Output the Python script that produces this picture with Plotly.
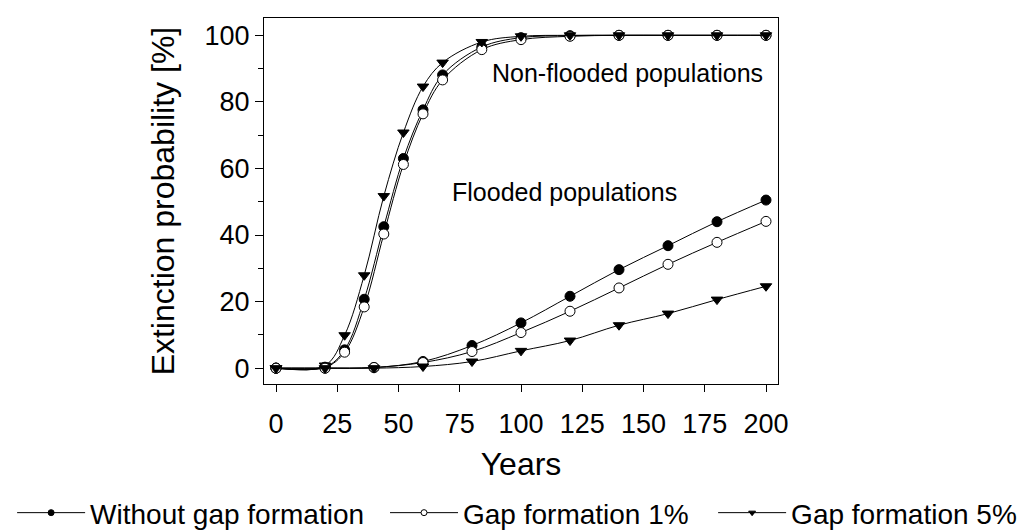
import plotly.graph_objects as go

# Simulation years (non-flooded runs are sampled more densely around the rise)
years_nonflooded = [0, 20, 28, 36, 44, 52, 60, 68, 84, 100, 120, 140, 160, 180, 200]
years_flooded = [0, 20, 40, 60, 80, 100, 120, 140, 160, 180, 200]

# Extinction probability [%] - non-flooded populations
nf_without_gap = [0, 0.3, 5.5, 20.7, 42.5, 63.0, 77.6, 88.1, 96.5, 99.3, 99.9, 100, 100, 100, 100]
nf_gap_1 = [0, 0.2, 4.8, 18.4, 40.3, 61.2, 76.4, 86.6, 95.7, 98.7, 99.7, 100, 100, 100, 100]
nf_gap_5 = [0, 0.8, 9.9, 27.9, 51.7, 70.8, 84.6, 91.8, 98.0, 99.7, 100, 100, 100, 100, 100]

# Extinction probability [%] - flooded populations
fl_without_gap = [0, 0, 0.2, 2.0, 6.8, 13.6, 21.6, 29.6, 36.8, 44.0, 50.5]
fl_gap_1 = [0, 0, 0.2, 1.7, 5.0, 10.7, 17.1, 24.1, 31.2, 37.8, 44.1]
fl_gap_5 = [0, 0, 0, 0.5, 2.0, 5.2, 8.3, 12.9, 16.4, 20.6, 24.6]

series_names = ["Without gap formation", "Gap formation 1%", "Gap formation 5%"]
x_ticks = [0, 25, 50, 75, 100, 125, 150, 175, 200]
y_ticks = [0, 20, 40, 60, 80, 100]

FONT = "Liberation Sans, Arial, sans-serif"
BLACK = "#000000"

styles = [
    dict(symbol="circle", color=BLACK, size=10),
    dict(symbol="circle", color="#ffffff", size=10),
    dict(symbol="triangle-down", color=BLACK, size=10),
]
legend_ids = ["legend", "legend2", "legend3"]
legend_x = [0.0117, 0.372, 0.689]   # left edges of the three legend entries

fig = go.Figure()

groups = [
    (years_nonflooded, [nf_without_gap, nf_gap_1, nf_gap_5]),
    (years_flooded, [fl_without_gap, fl_gap_1, fl_gap_5]),
]
for xs, ys_list in groups:
    for name, ys, st in zip(series_names, ys_list, styles):
        fig.add_trace(go.Scatter(
            x=xs, y=ys, name=name, legendgroup=name, showlegend=False,
            mode="lines+markers",
            line=dict(color=BLACK, width=1, shape="spline", smoothing=1.0),
            marker=dict(symbol=st["symbol"], size=st["size"], color=st["color"],
                        line=dict(color=BLACK, width=1)),
        ))

# Legend entries (one legend per series so they sit on a single row)
for name, st, lid in zip(series_names, styles, legend_ids):
    fig.add_trace(go.Scatter(
        x=[None], y=[None], name=name, legendgroup=name, showlegend=True,
        legend=lid, mode="lines+markers",
        line=dict(color=BLACK, width=1),
        marker=dict(symbol=st["symbol"], size=6, color=st["color"],
                    line=dict(color=BLACK, width=1)),
    ))

fig.add_annotation(x=199.6, y=88.7, xref="x", yref="y", text="Non-flooded populations",
                   showarrow=False, xanchor="right", yanchor="middle",
                   font=dict(family=FONT, size=25, color=BLACK))
fig.add_annotation(x=71, y=52.8, xref="x", yref="y", text="Flooded populations",
                   showarrow=False, xanchor="left", yanchor="middle",
                   font=dict(family=FONT, size=25, color=BLACK))

legend_common = dict(orientation="h", xref="container", yref="container",
                     y=0.034, xanchor="left", yanchor="middle",
                     font=dict(family=FONT, size=28, color=BLACK),
                     itemwidth=68, bgcolor="rgba(0,0,0,0)", borderwidth=0)

fig.update_layout(
    width=1035, height=531,
    margin=dict(l=264, r=257, t=18, b=145),
    paper_bgcolor="white", plot_bgcolor="white",
    font=dict(family=FONT, color=BLACK),
    showlegend=True,
    legend=dict(x=legend_x[0], **legend_common),
    legend2=dict(x=legend_x[1], **legend_common),
    legend3=dict(x=legend_x[2], **legend_common),
    xaxis=dict(range=[-4.9, 204.9], tickvals=x_ticks, ticks="outside", ticklen=7,
               tickwidth=1, tickcolor=BLACK, showline=True, linecolor=BLACK,
               linewidth=1, mirror=True, showgrid=False, zeroline=False,
               ticklabelstandoff=8,
               tickfont=dict(family=FONT, size=27, color=BLACK),
               title=dict(text="Years", font=dict(family=FONT, size=32, color=BLACK),
                          standoff=15)),
    yaxis=dict(range=[-4.8, 105.2], tickvals=y_ticks, ticks="outside", ticklen=8,
               tickwidth=1, tickcolor=BLACK, showline=True, linecolor=BLACK,
               linewidth=1, mirror=True, showgrid=False, zeroline=False,
               minor=dict(tickvals=[10, 30, 50, 70, 90], ticks="outside", ticklen=5,
                          tickcolor=BLACK, tickwidth=1, showgrid=False),
               tickfont=dict(family=FONT, size=27, color=BLACK),
               title=dict(text="Extinction probability [%]",
                          font=dict(family=FONT, size=32, color=BLACK), standoff=20)),
)

fig.write_html("out.html")
